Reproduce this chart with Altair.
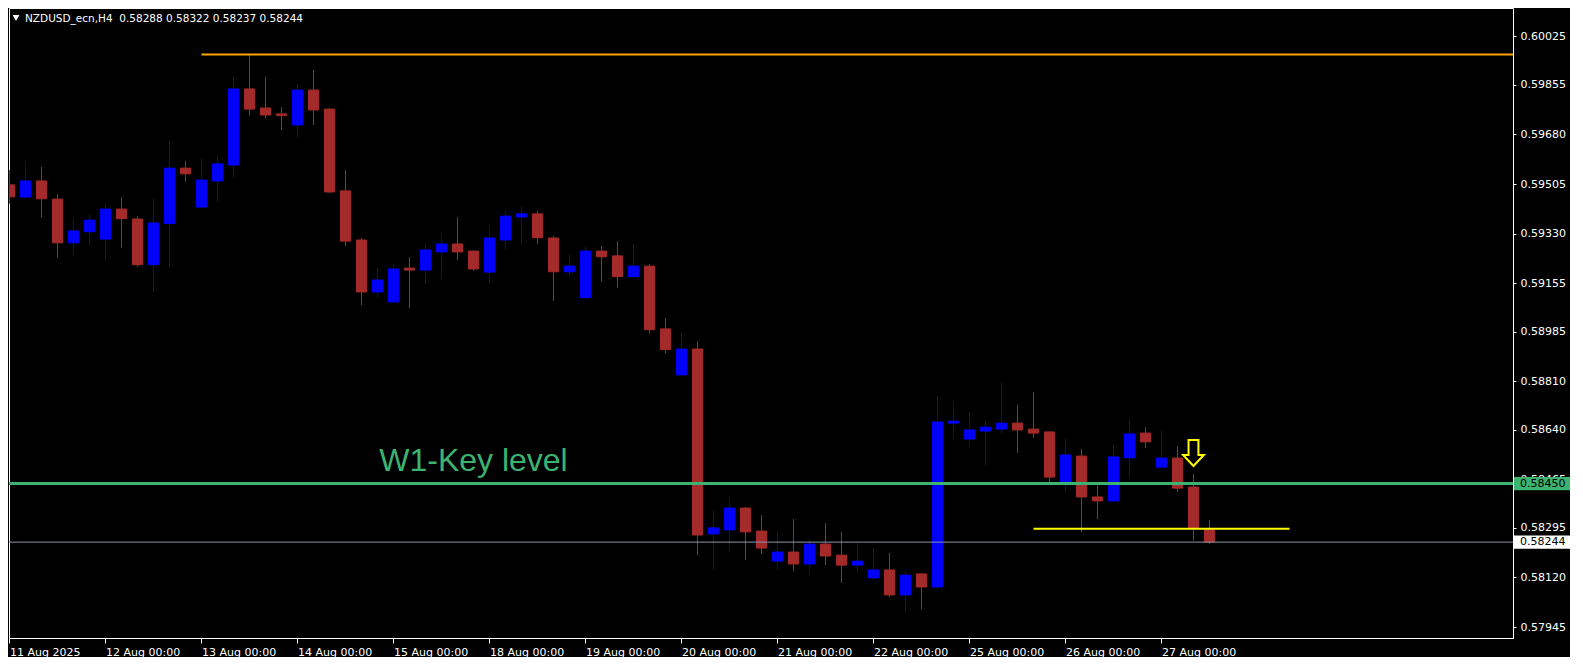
import altair as alt
import pandas as pd

# ---------------- data ----------------
symbol = "NZDUSD_ecn,H4"
day_labels = ["11 Aug 2025", "12 Aug 00:00", "13 Aug 00:00", "14 Aug 00:00", "15 Aug 00:00",
              "18 Aug 00:00", "19 Aug 00:00", "20 Aug 00:00", "21 Aug 00:00", "22 Aug 00:00",
              "25 Aug 00:00", "26 Aug 00:00", "27 Aug 00:00"]
bars_per_day = 6

opens = [0.59502, 0.59459, 0.59516, 0.59452, 0.59298, 0.59337, 0.59311, 0.59417, 0.59382, 0.59221,
         0.59366, 0.59561, 0.59424, 0.59516, 0.59572, 0.59840, 0.59773, 0.59752, 0.59713, 0.59836,
         0.59769, 0.59481, 0.59308, 0.59125, 0.59090, 0.59209, 0.59202, 0.59266, 0.59294, 0.59269,
         0.59195, 0.59308, 0.59389, 0.59400, 0.59315, 0.59196, 0.59105, 0.59269, 0.59252, 0.59179,
         0.59216, 0.58995, 0.58833, 0.58924, 0.58273, 0.58287, 0.58364, 0.58283, 0.58177, 0.58209,
         0.58167, 0.58237, 0.58198, 0.58163, 0.58118, 0.58146, 0.58058, 0.58132, 0.58086, 0.58663,
         0.58607, 0.58635, 0.58642, 0.58663, 0.58642, 0.58632, 0.58452, 0.58547, 0.58403, 0.58389,
         0.58541, 0.58628, 0.58508, 0.58540, 0.58438, 0.58288]
highs = [0.59554, 0.59586, 0.59565, 0.59470, 0.59385, 0.59396, 0.59438, 0.59459, 0.59392, 0.59452,
         0.59657, 0.59586, 0.59593, 0.59607, 0.59882, 0.59960, 0.59882, 0.59776, 0.59857, 0.59907,
         0.59773, 0.59554, 0.59315, 0.59209, 0.59223, 0.59248, 0.59297, 0.59333, 0.59389, 0.59269,
         0.59361, 0.59410, 0.59424, 0.59410, 0.59322, 0.59255, 0.59283, 0.59287, 0.59304, 0.59294,
         0.59223, 0.59033, 0.58980, 0.58952, 0.58354, 0.58403, 0.58368, 0.58339, 0.58283, 0.58325,
         0.58251, 0.58311, 0.58280, 0.58241, 0.58223, 0.58206, 0.58139, 0.58135, 0.58758, 0.58741,
         0.58702, 0.58670, 0.58804, 0.58727, 0.58773, 0.58632, 0.58607, 0.58572, 0.58456, 0.58586,
         0.58678, 0.58649, 0.58635, 0.58582, 0.58484, 0.58322]
lows = [0.59436, 0.59457, 0.59387, 0.59246, 0.59256, 0.59288, 0.59234, 0.59281, 0.59214, 0.59126,
        0.59214, 0.59513, 0.59422, 0.59443, 0.59530, 0.59746, 0.59737, 0.59695, 0.59671, 0.59713,
        0.59474, 0.59287, 0.59079, 0.59107, 0.59090, 0.59068, 0.59153, 0.59171, 0.59237, 0.59199,
        0.59156, 0.59276, 0.59290, 0.59294, 0.59094, 0.59179, 0.59105, 0.59161, 0.59140, 0.59179,
        0.58978, 0.58908, 0.58833, 0.58198, 0.58146, 0.58213, 0.58181, 0.58202, 0.58146, 0.58142,
        0.58128, 0.58163, 0.58100, 0.58135, 0.58111, 0.58051, 0.57994, 0.58008, 0.58079, 0.58607,
        0.58579, 0.58515, 0.58628, 0.58558, 0.58611, 0.58452, 0.58417, 0.58280, 0.58325, 0.58385,
        0.58470, 0.58575, 0.58505, 0.58420, 0.58249, 0.58237]
closes = [0.59460, 0.59516, 0.59453, 0.59298, 0.59340, 0.59378, 0.59417, 0.59383, 0.59221, 0.59368,
          0.59561, 0.59541, 0.59519, 0.59576, 0.59840, 0.59769, 0.59748, 0.59746, 0.59836, 0.59766,
          0.59477, 0.59304, 0.59125, 0.59167, 0.59206, 0.59202, 0.59273, 0.59294, 0.59266, 0.59206,
          0.59315, 0.59392, 0.59400, 0.59316, 0.59196, 0.59216, 0.59269, 0.59249, 0.59179, 0.59216,
          0.58992, 0.58922, 0.58924, 0.58269, 0.58294, 0.58364, 0.58280, 0.58223, 0.58209, 0.58167,
          0.58237, 0.58195, 0.58163, 0.58177, 0.58146, 0.58058, 0.58128, 0.58086, 0.58667, 0.58670,
          0.58639, 0.58649, 0.58663, 0.58639, 0.58628, 0.58473, 0.58551, 0.58403, 0.58389, 0.58544,
          0.58625, 0.58597, 0.58540, 0.58434, 0.58291, 0.58244]

price_ticks = [0.60025, 0.59855, 0.59680, 0.59505, 0.59330, 0.59155, 0.58985,
               0.58810, 0.58640, 0.58465, 0.58295, 0.58120, 0.57945]

key_level = 0.58450
current_price = 0.58244
top_level = 0.59961
top_level_from_bar = 12
support_level = 0.58291
support_from_bar = 64
support_to_bar = 80
key_text = "W1-Key level"
key_text_bar = 29
key_text_price = 0.58530
arrow_bar = 74
arrow_price = 0.58558

# ---------------- layout ----------------
W = 1504
H = 630
PX_PER_BAR = 16.0
PX_PER_UNIT = 28395.0
XMIN = -0.03
XMAX = XMIN + W / PX_PER_BAR
YMAX = 0.60125
YMIN = YMAX - H / PX_PER_UNIT

FONT = "DejaVu Sans"

n = len(opens)
df = pd.DataFrame({
    "i": list(range(n)),
    "open": opens, "high": highs, "low": lows, "close": closes,
})
df["dir"] = ["up" if c >= o else "down" for o, c in zip(opens, closes)]

label_expr = "[" + ",".join("'%s'" % d for d in day_labels) + "][round(datum.value/%d)]" % bars_per_day

x_scale = alt.Scale(domain=[XMIN, XMAX], nice=False, zero=False, padding=0)
y_scale = alt.Scale(domain=[YMIN, YMAX], nice=False, zero=False, padding=0)

x_axis = alt.Axis(values=list(range(0, bars_per_day * len(day_labels), bars_per_day)),
                  labelExpr=label_expr, grid=False, domainColor="#FFFFFF", tickColor="#FFFFFF",
                  tickSize=5, labelColor="#FFFFFF", labelFont=FONT, labelFontSize=11,
                  labelAlign="left", labelPadding=3, labelOverlap=False, labelFlush=False, title=None)
y_axis = alt.Axis(orient="right", values=price_ticks, format=".5f", grid=False,
                  domainColor="#FFFFFF", tickColor="#FFFFFF", tickSize=3, labelPadding=4,
                  labelColor="#FFFFFF", labelFont=FONT, labelFontSize=11, labelOverlap=False,
                  labelFlush=False, title=None)


def X(field):
    return alt.X(field, type="quantitative", scale=x_scale, axis=x_axis, title=None)


def Y(field):
    return alt.Y(field, type="quantitative", scale=y_scale, axis=y_axis, title=None)


col_scale = alt.Scale(domain=["up", "down"], range=["#0000FF", "#A52A2A"])

base = alt.Chart(df)
wicks = base.mark_rule(strokeWidth=1, clip=True).encode(
    x=X("i"), y=Y("low"), y2="high",
    color=alt.Color("dir:N", scale=col_scale, legend=None))
bodies = base.mark_bar(size=10, strokeWidth=1, clip=True).encode(
    x=X("i"), y=Y("open"), y2="close",
    color=alt.Color("dir:N", scale=col_scale, legend=None),
    stroke=alt.Stroke("dir:N", scale=col_scale, legend=None))

cur_df = pd.DataFrame({"p": [current_price]})
key_df = pd.DataFrame({"p": [key_level]})
cur_line = alt.Chart(cur_df).mark_rule(color="#8A97A8", strokeWidth=1, clip=True).encode(y=Y("p"))
key_line = alt.Chart(key_df).mark_rule(color="#3CB371", strokeWidth=3, clip=True).encode(y=Y("p"))

top_df = pd.DataFrame({"x0": [top_level_from_bar], "x1": [XMAX], "p": [top_level]})
top_line = alt.Chart(top_df).mark_rule(color="#FFA500", strokeWidth=2, clip=True).encode(
    x=X("x0"), x2="x1", y=Y("p"))
sup_df = pd.DataFrame({"x0": [support_from_bar], "x1": [support_to_bar], "p": [support_level]})
sup_line = alt.Chart(sup_df).mark_rule(color="#FFFF00", strokeWidth=2, clip=True).encode(
    x=X("x0"), x2="x1", y=Y("p"))

arrow_path = "M-0.38,-1L0.38,-1L0.38,0.15L0.8,0.15L0,1L-0.8,0.15L-0.38,0.15Z"
arrow_df = pd.DataFrame({"i": [arrow_bar], "p": [arrow_price]})
arrow = alt.Chart(arrow_df).mark_point(shape=arrow_path, size=676, filled=False,
                                        stroke="#FFFF00", strokeWidth=2, opacity=1).encode(
    x=X("i"), y=Y("p"))

kt_df = pd.DataFrame({"i": [key_text_bar], "p": [key_text_price], "t": [key_text]})
key_label = alt.Chart(kt_df).mark_text(font="Liberation Sans, Arial", fontSize=32, color="#3CB371",
                                       align="center", baseline="middle").encode(
    x=X("i"), y=Y("p"), text="t:N")

title_txt = "%s\u00a0\u00a0%.5f %.5f %.5f %.5f" % (symbol, opens[-1], highs[-1], lows[-1], closes[-1])
title_df = pd.DataFrame({"t": [title_txt]})
title = alt.Chart(title_df).mark_text(font=FONT, fontSize=10.5, color="#FFFFFF", align="left",
                                      baseline="middle").encode(
    x=alt.value(16), y=alt.value(11), text="t:N")
tri = alt.Chart(title_df).mark_point(shape="triangle-down", filled=True, color="#FFFFFF",
                                     size=45, opacity=1).encode(x=alt.value(7), y=alt.value(10))

BOX_H = 6.7 / PX_PER_UNIT
key_box_df = pd.DataFrame({"p": [key_level], "top": [key_level + BOX_H], "bot": [key_level - BOX_H],
                           "lab": ["%.5f" % key_level]})
cur_box_df = pd.DataFrame({"p": [current_price], "top": [current_price + BOX_H],
                           "bot": [current_price - BOX_H], "lab": ["%.5f" % current_price]})
key_box = alt.Chart(key_box_df).mark_rect(color="#3CB371").encode(
    x=alt.value(W + 1), x2=alt.value(W + 57), y=Y("top"), y2="bot")
cur_box = alt.Chart(cur_box_df).mark_rect(color="#FFFFFF").encode(
    x=alt.value(W + 1), x2=alt.value(W + 57), y=Y("top"), y2="bot")
key_box_text = alt.Chart(key_box_df).mark_text(font=FONT, fontSize=11, color="#000000", align="left",
                                               baseline="middle").encode(
    x=alt.value(W + 7), y=Y("p"), text="lab:N")
cur_box_text = alt.Chart(cur_box_df).mark_text(font=FONT, fontSize=11, color="#000000", align="left",
                                               baseline="middle").encode(
    x=alt.value(W + 7), y=Y("p"), text="lab:N")

chart = alt.layer(
    wicks, bodies, cur_line, key_line, top_line, sup_line, arrow, key_label, title, tri,
    key_box, cur_box, key_box_text, cur_box_text
).properties(
    width=W, height=H, background="#000000",
    padding={"left": 0, "top": 0, "right": 0, "bottom": 0}
).configure_view(stroke="#FFFFFF", strokeWidth=1)

chart.save("out.html", embed_options={"renderer": "svg", "actions": False})
